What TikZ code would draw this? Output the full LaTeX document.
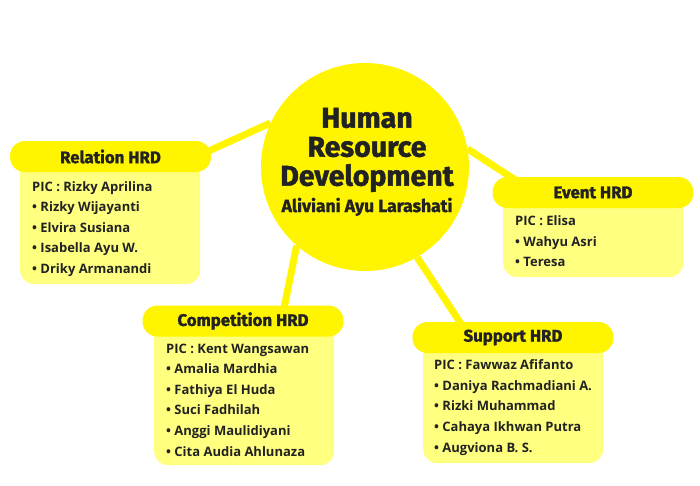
\documentclass[tikz,border=0pt]{standalone}
\usepackage{fontspec}
\setmainfont{Open Sans}
\newfontfamily\headfont{Fira Sans Bold}[FakeBold=1.6]
\usetikzlibrary{backgrounds,calc}
\definecolor{hdr}{HTML}{FFF500}
\definecolor{bodyy}{HTML}{FFFF80}
\definecolor{ink}{HTML}{222222}
\tikzset{
  hdrbox/.style={fill=hdr, rounded corners=15pt, minimum width=201pt, minimum height=31pt, inner sep=0pt,
    font=\headfont\fontsize{16.8}{17}\selectfont, text=ink},
  bodybox/.style={fill=bodyy, rounded corners=14pt, anchor=north west, inner sep=0pt, minimum width=180pt},
  listtxt/.style={font=\bfseries\fontsize{13}{20.6}\selectfont, text=ink, align=left, anchor=north west, inner sep=0pt},
  link/.style={draw=hdr, line width=7pt},
  hub/.style={circle, fill=hdr, minimum size=208pt, inner sep=0pt},
}
\begin{document}
\begin{tikzpicture}[x=1pt,y=-1pt]
\useasboundingbox (0,0) rectangle (700,485);
% hub
\node[hub] (hub) at (365,167) {};
\node[font=\headfont\fontsize{28.5}{29}\selectfont, text=ink, align=center] (title) at (367,150) {Human\\Resource\\Development};
\node[font=\headfont\fontsize{17.5}{18}\selectfont, text=ink, anchor=base] (author) at (367,212) {Aliviani Ayu Larashati};
% Relation
\node[bodybox, minimum height=128pt] (relb) at (20,156) {};
\node[hdrbox] (relh) at (110.5,156.5) {Relation HRD};
\node[listtxt] (relt) at (32,181) {PIC : Rizky Aprilina\\• Rizky Wijayanti\\• Elvira Susiana\\• Isabella Ayu W.\\• Driky Armanandi};
% Event
\node[bodybox, minimum height=85pt] (evb) at (503,192) {};
\node[hdrbox] (evh) at (593,192.5) {Event HRD};
\node[listtxt] (evt) at (515,215.5) {PIC : Elisa\\• Wahyu Asri\\• Teresa};
% Competition
\node[bodybox, minimum height=144pt] (cob) at (154,321) {};
\node[hdrbox] (coh) at (243,321) {Competition HRD};
\node[listtxt] (cot) at (166,343.5) {PIC : Kent Wangsawan\\• Amalia Mardhia\\• Fathiya El Huda\\• Suci Fadhilah\\• Anggi Maulidiyani\\• Cita Audia Ahlunaza};
% Support
\node[bodybox, minimum height=126pt] (sub) at (423,337) {};
\node[hdrbox] (suh) at (513,337.5) {Support HRD};
\node[listtxt] (sut) at (434,359.5) {PIC : Fawwaz Afifanto\\• Daniya Rachmadiani A.\\• Rizki Muhammad\\• Cahaya Ikhwan Putra\\• Augviona B. S.};
% links
\begin{scope}[on background layer]
\draw[link] (hub.155) -- ($(relh.east)+(-8,-3)$);
\draw[link] (hub.10) -- ($(evh.west)+(30,-8)$);
\draw[link] (hub.229) -- ($(coh.north)+(40,8)$);
\draw[link] (hub.300) -- ($(suh.north)+(-48,8)$);
\end{scope}
\end{tikzpicture}
\end{document}
